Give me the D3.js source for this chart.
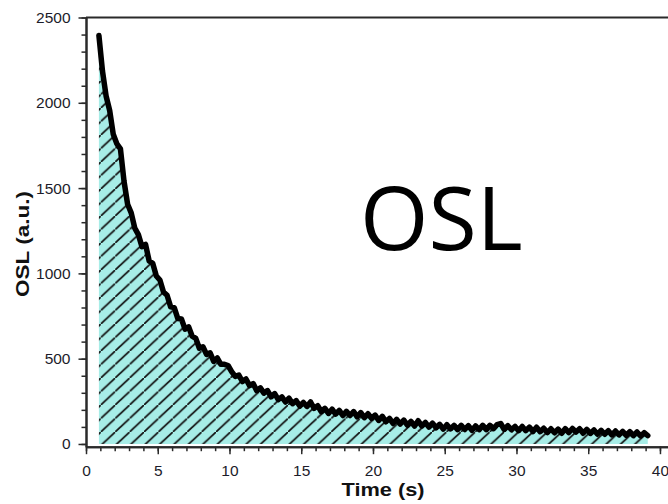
<!DOCTYPE html>
<html>
<head>
<meta charset="utf-8">
<script src="https://cdn.jsdelivr.net/npm/d3@7"></script>
<style>
  html, body { margin: 0; padding: 0; background: #fff; }
  svg { display: block; }
  .tick text { font-family: "Liberation Sans", Arial, sans-serif; font-size: 15.5px; fill: #1c1c2a; }
</style>
</head>
<body>
<svg id="chart" width="668" height="504"></svg>
<script>
// OSL decay curve, counts sampled every 0.25 s starting at 0.9 s
const startTime = 0.9;
const timeStep = 0.25;
const counts = [
  2395, 2185, 2040, 1955, 1815, 1760, 1730, 1540, 1405, 1355,
  1265, 1227, 1157, 1170, 1073, 1059, 985, 961, 891, 872,
  804, 799, 735, 733, 673, 687, 632, 619, 561, 570,
  525, 534, 484, 504, 467, 467, 460, 424, 396, 404,
  366, 381, 342, 354, 312, 329, 298, 313, 276, 295,
  260, 276, 246, 268, 236, 254, 222, 243, 220, 246,
  209, 224, 189, 209, 179, 204, 175, 197, 167, 191,
  167, 190, 159, 184, 154, 177, 150, 169, 138, 162,
  130, 150, 120, 144, 117, 140, 110, 132, 105, 136,
  106, 126, 99, 122, 95, 115, 87, 113, 88, 109,
  84, 109, 85, 107, 80, 106, 84, 109, 84, 109,
  90, 113, 120, 85, 107, 83, 103, 78, 103, 78,
  99, 73, 98, 72, 92, 67, 89, 66, 87, 63,
  90, 67, 91, 70, 89, 63, 85, 62, 82, 57,
  80, 57, 78, 53, 76, 53, 74, 51, 72, 49,
  70, 47, 66, 49
];
const xTicks = [0, 5, 10, 15, 20, 25, 30, 35, 40];
const yTicks = [0, 500, 1000, 1500, 2000, 2500];
const xLabel = "Time (s)";
const yLabel = "OSL (a.u.)";
const chartTitle = "OSL";

const data = counts.map((c, i) => ({ t: startTime + i * timeStep, v: c }));

const svg = d3.select("#chart");
const plotLeft = 86, plotRight = 668, plotTop = 17.5, plotBottom = 446.7;

const x = d3.scaleLinear().domain([0, 40.56]).range([plotLeft, plotRight]);
const y = d3.scaleLinear().domain([-16, 2500]).range([plotBottom, plotTop]);

// hatch fill for the area under the decay curve
const defs = svg.append("defs");
const pw = 14.4, ph = 13.5;
const pat = defs.append("pattern")
  .attr("id", "hatch")
  .attr("patternUnits", "userSpaceOnUse")
  .attr("width", pw).attr("height", ph);
pat.append("rect").attr("width", pw).attr("height", ph).attr("fill", "#a7ede7");
pat.append("path")
  .attr("d", `M${-pw},${2*ph} L${2*pw},${-ph}`)
  .attr("stroke", "#111").attr("stroke-width", 1.7);

const area = d3.area()
  .x(d => x(d.t))
  .y0(y(0))
  .y1(d => y(d.v));

svg.append("path")
  .datum(data)
  .attr("d", area)
  .attr("fill", "url(#hatch)");

const line = d3.line()
  .x(d => x(d.t))
  .y(d => y(d.v));

svg.append("path")
  .datum(data)
  .attr("d", line)
  .attr("fill", "none")
  .attr("stroke", "#000")
  .attr("stroke-width", 5.5)
  .attr("stroke-linejoin", "round")
  .attr("stroke-linecap", "round");

// axes
const axisColor = "#2a2a2a";
const fmt = d3.format("d");

svg.append("g")
  .attr("transform", `translate(${plotLeft},0)`)
  .call(d3.axisLeft(y).tickValues(d3.range(0, 2501, 100)).tickSize(4.5).tickSizeOuter(0).tickFormat(""));
svg.append("g")
  .attr("transform", `translate(${plotLeft},0)`)
  .call(d3.axisLeft(y).tickValues(yTicks).tickSize(7.5).tickSizeOuter(0).tickPadding(8).tickFormat(fmt));

svg.append("g")
  .attr("transform", `translate(0,${plotBottom})`)
  .call(d3.axisBottom(x).tickValues(d3.range(0, 41, 1)).tickSize(4.5).tickSizeOuter(0).tickFormat(""));
svg.append("g")
  .attr("transform", `translate(0,${plotBottom})`)
  .call(d3.axisBottom(x).tickValues(xTicks).tickSize(7.5).tickSizeOuter(0).tickPadding(11).tickFormat(fmt));

svg.selectAll(".domain").attr("stroke", axisColor).attr("stroke-width", 2);
svg.selectAll(".tick line").attr("stroke", axisColor).attr("stroke-width", 1.5);

// top frame line
svg.append("line")
  .attr("x1", plotLeft).attr("x2", plotRight)
  .attr("y1", plotTop).attr("y2", plotTop)
  .attr("stroke", axisColor).attr("stroke-width", 2);

// axis titles
svg.append("text")
  .attr("x", 383).attr("y", 496)
  .attr("text-anchor", "middle")
  .attr("font-family", "Liberation Sans, Arial, sans-serif")
  .attr("font-weight", "bold")
  .attr("font-size", 19)
  .attr("textLength", 83)
  .attr("lengthAdjust", "spacingAndGlyphs")
  .attr("fill", "#111")
  .text(xLabel);

svg.append("text")
  .attr("transform", "translate(29,244) rotate(-90)")
  .attr("text-anchor", "middle")
  .attr("font-family", "Liberation Sans, Arial, sans-serif")
  .attr("font-weight", "bold")
  .attr("font-size", 19)
  .attr("textLength", 106)
  .attr("lengthAdjust", "spacingAndGlyphs")
  .attr("fill", "#111")
  .text(yLabel);

// large annotation
svg.append("text")
  .attr("x", 360).attr("y", 250)
  .attr("font-family", "Open Sans, Noto Sans, sans-serif")
  .attr("font-size", 88)
  .attr("fill", "#000")
  .text(chartTitle);
</script>
</body>
</html>
